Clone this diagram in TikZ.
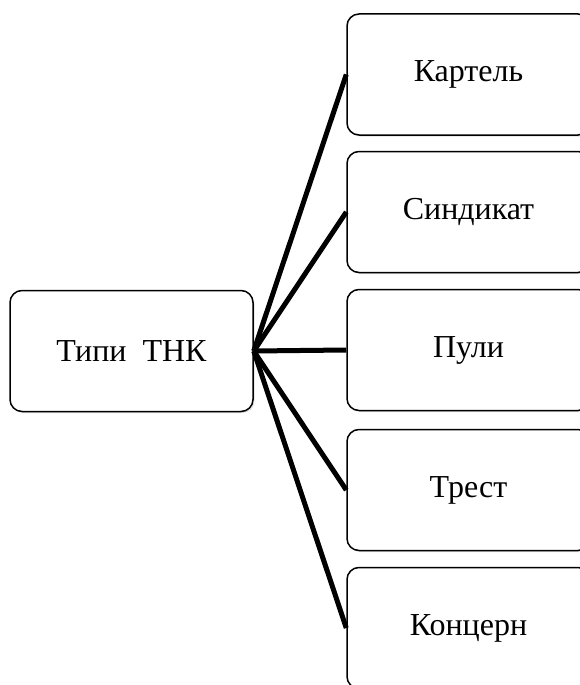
\documentclass[tikz,border=0pt]{standalone}
\usepackage{fontspec}
\setmainfont{Liberation Serif}
\usetikzlibrary{shadows}
\begin{document}
\begin{tikzpicture}[x=1pt,y=-1pt,
  box/.style={draw=black, line width=1.5pt, rounded corners=12pt, fill=white,
    minimum width=243pt, minimum height=121pt, inner sep=0pt,
    font=\fontsize{32}{36}\selectfont,
    drop shadow={shadow xshift=1.5pt, shadow yshift=-1.5pt, opacity=0.25}},
  link/.style={line width=5pt}]
\useasboundingbox (0,0) rectangle (580,685);
\clip (0,0) rectangle (580,685);
\node[box] (root) at (131.5,351) {Типи\ \ ТНК};
\node[box] (a) at (468.5,74.5) {Картель};
\node[box] (b) at (468.5,212) {Синдикат};
\node[box] (c) at (468.5,350) {Пули};
\node[box] (d) at (468.5,490) {Трест};
\node[box] (e) at (468.5,628) {Концерн};
\foreach \t in {a,b,c,d,e} \draw[link] (root.east) -- (\t.west);
\end{tikzpicture}
\end{document}
